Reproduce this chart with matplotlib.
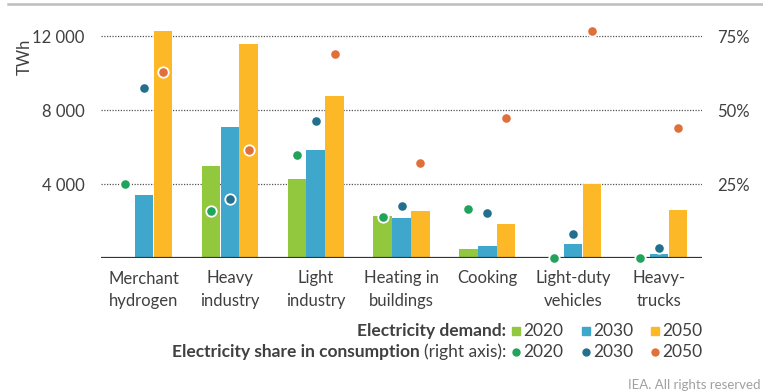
"""
Electricity demand by end use (bars, TWh) and electricity share in consumption (dots, right axis).
"""

import matplotlib.pyplot as plt
from matplotlib.lines import Line2D
from matplotlib.patches import Rectangle
import numpy as np

plt.rcParams['font.family'] = ['Lato', 'DejaVu Sans']

# ── Data ─────────────────────────────────────────────────────────────────────
categories = ['Merchant\nhydrogen', 'Heavy\nindustry', 'Light\nindustry',
              'Heating in\nbuildings', 'Cooking', 'Light-duty\nvehicles', 'Heavy-\ntrucks']
years = ['2020', '2030', '2050']

demand_2020 = [0, 5000, 4300, 2300, 500, 0, 0]
demand_2030 = [3400, 7100, 5850, 2150, 650, 760, 220]
demand_2050 = [12300, 11600, 8750, 2550, 1850, 4000, 2600]

share_2020 = [25.0, 16.0, 35.0, 14.0, 16.5, 0.0, 0.0]
share_2030 = [57.5, 20.0, 46.5, 17.5, 15.3, 8.2, 3.4]
share_2050 = [63.0, 36.5, 69.0, 32.0, 47.5, 76.7, 44.0]

left_ticks = [4000, 8000, 12000]
left_labels = ['4 000', '8 000', '12 000']
right_ticks = [25, 50, 75]
right_labels = ['25%', '50%', '75%']

bar_colors = ['#92c83e', '#3fa7cb', '#fdb827']
dot_colors = ['#20a35a', '#23708e', '#e0703a']
text_col = '#404040'

W, H = 763, 392

# ── Figure ────────────────────────────────────────────────────────────────────
fig = plt.figure(figsize=(W / 100, H / 100), dpi=100)
ax = fig.add_axes([101 / W, 1 - 258 / H, (702 - 101) / W, (258 - 18) / H])
ax2 = ax.twinx()

x = np.arange(len(categories))
offsets = [-0.22, 0.0, 0.22]
demands = [demand_2020, demand_2030, demand_2050]
shares = [share_2020, share_2030, share_2050]

ymax = 13000
ax.set_ylim(0, ymax)
ax2.set_ylim(0, ymax / 16000 * 100)
ax.set_xlim(-0.5, len(categories) - 0.5)

for yv in left_ticks:
    ax.axhline(yv, color='#555555', lw=0.9, ls=(0, (1, 1.2)), zorder=0)

for d, off, c in zip(demands, offsets, bar_colors):
    ax.bar(x + off, d, width=0.215, color=c, zorder=2)

for s, off, c in zip(shares, offsets, dot_colors):
    ax2.plot(x + off, s, ls='none', marker='o', markersize=7.5,
             markerfacecolor=c, markeredgecolor='white', markeredgewidth=1.3,
             clip_on=False, zorder=3)

ax.axhline(0, color='#333333', lw=1.6, zorder=4)

for a in (ax, ax2):
    for sp in a.spines.values():
        sp.set_visible(False)
    a.tick_params(length=0)

ax.set_yticks(left_ticks)
ax.set_yticklabels(left_labels, fontsize=12, color=text_col)
ax.tick_params(axis='y', pad=12)
ax2.set_yticks(right_ticks)
ax2.set_yticklabels(right_labels, fontsize=12, color=text_col)
ax2.tick_params(axis='y', pad=11)

ax.set_xticks(x)
ax.set_xticklabels(categories, fontsize=12, color=text_col, linespacing=1.5)
ax.tick_params(axis='x', pad=9)

fig.text(25 / W, 1 - 57 / H, 'TWh', rotation=90, fontsize=12, color=text_col,
         ha='center', va='center')

# top rule
fig.add_artist(Line2D([8 / W, 1], [1 - 4 / H, 1 - 4 / H], color='#bdbdbd', lw=1.8))

# ── Legend (hand-built) ───────────────────────────────────────────────────────
def fx(px):
    return px / W

def fy(py):
    return 1 - py / H

fs_leg = 12.5
y1, y2 = 331, 352
fig.text(fx(506), fy(y1), 'Electricity demand:', fontsize=fs_leg, fontweight='bold',
         color=text_col, ha='right', va='center')
t_norm = fig.text(fx(506), fy(y2), '(right axis):', fontsize=fs_leg,
                  color=text_col, ha='right', va='center')
fig.canvas.draw()
bb = t_norm.get_window_extent(fig.canvas.get_renderer())
fig.text(bb.x0 / W - 4 / W, fy(y2), 'Electricity share in consumption', fontsize=fs_leg,
         fontweight='bold', color=text_col, ha='right', va='center')

item_x = [512, 582, 651]
for xi, yr, bc, dc in zip(item_x, years, bar_colors, dot_colors):
    fig.add_artist(Rectangle((fx(xi), fy(y1 + 4)), 8 / W, 8 / H, color=bc,
                             transform=fig.transFigure))
    fig.add_artist(Line2D([fx(xi + 4)], [fy(y2)], marker='o', markersize=5,
                          color=dc, ls='none'))
    fig.text(fx(xi + 11), fy(y1), yr, fontsize=fs_leg, color=text_col, va='center')
    fig.text(fx(xi + 11), fy(y2), yr, fontsize=fs_leg, color=text_col, va='center')

fig.text(fx(761), fy(385), 'IEA. All rights reserved', fontsize=9.5,
         color='#a0a0a0', ha='right', va='center')

fig.savefig('out.png', dpi=100)
plt.close(fig)
